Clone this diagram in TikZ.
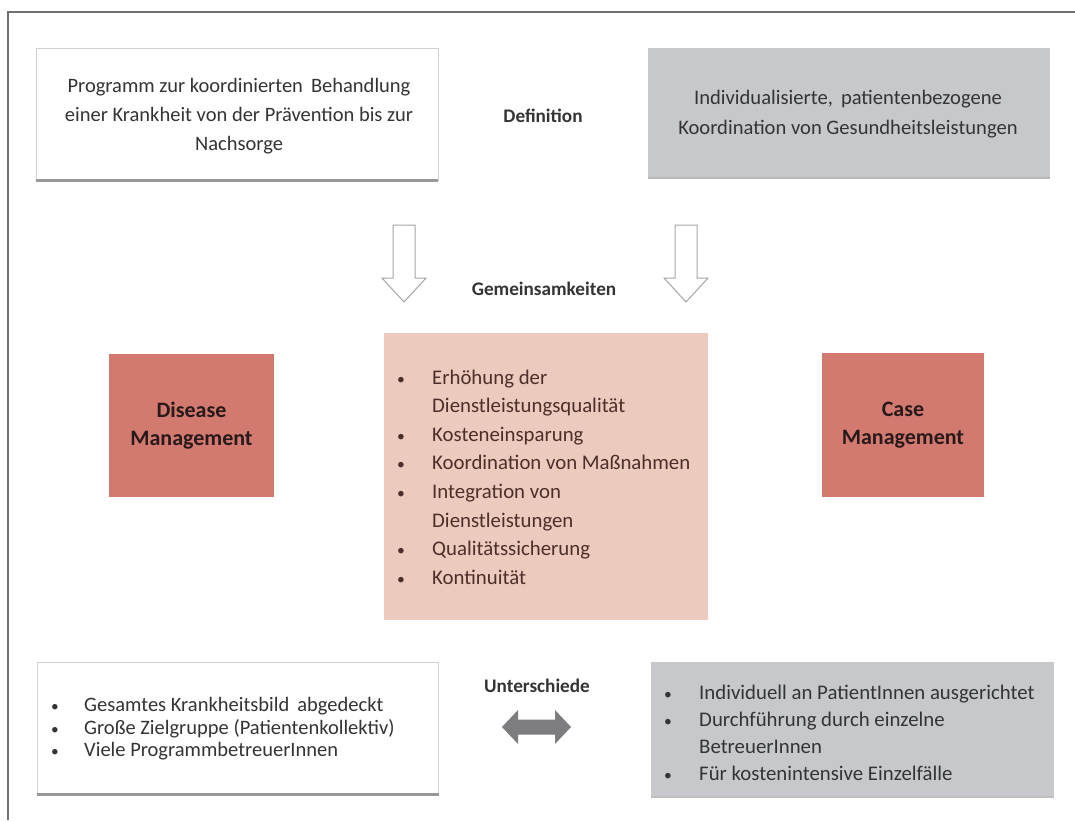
\documentclass[tikz,border=0pt]{standalone}
\usepackage{fontspec}
\setmainfont{Carlito}
\definecolor{framegray}{RGB}{112,112,112}
\definecolor{boxgray}{RGB}{198,200,204}
\definecolor{salmon}{RGB}{210,121,112}
\definecolor{pinklight}{RGB}{236,202,190}
\definecolor{textgray}{RGB}{52,52,52}
\definecolor{darktext}{RGB}{40,26,26}
\definecolor{browntext}{RGB}{76,46,42}
\definecolor{arrowgray}{RGB}{125,125,128}
\definecolor{hollowedge}{RGB}{165,165,165}
\newcommand{\bitem}[2][32pt]{\makebox[#1][l]{\hspace*{1pt}\scalebox{0.75}{\textbullet}}#2}
\newcommand{\bcont}[2][32pt]{\hspace*{#1}#2}
\begin{document}
\begin{tikzpicture}[x=1pt,y=-1pt,
  whitebox/.style={draw=black!18, line width=0.8pt, fill=white, text=textgray, inner sep=0pt},
  graybox/.style={fill=boxgray, text=textgray, inner sep=0pt},
  mgmtbox/.style={fill=salmon, text=darktext, font=\fontsize{22}{28}\selectfont\bfseries, align=center, inner sep=0pt},
  centerbox/.style={fill=pinklight, text=browntext, inner sep=0pt},
  lbl/.style={text=textgray, font=\fontsize{19.2}{22}\selectfont\bfseries},
  hollow/.style={draw=hollowedge, line width=1pt, fill=white, line join=miter},
  shadowline/.style={draw=black!40, line width=2.5pt}
]
\useasboundingbox (0,0) rectangle (1075,820);
\fill[white] (0,0) rectangle (1075,820);
% frame
\draw[framegray, line width=1.5pt] (8,820) -- (8,12) -- (1075,12);

% top boxes
\node[whitebox, minimum width=402, minimum height=132] (dmdef) at (237,114) {};
\draw[shadowline] (dmdef.south west) -- (dmdef.south east);
\node[text=textgray, align=center, inner sep=0pt,
      font=\fontsize{20.5}{29}\selectfont] (dmdeftext) at (239,116)
  {Programm zur koordinierten\, Behandlung\\einer Krankheit von der Prävention bis zur\\Nachsorge};
\node[graybox, minimum width=402, minimum height=130] (cmdef) at (849,113) {};
\draw[black!28, line width=1.5pt] (cmdef.south west) -- (cmdef.south east);
\node[text=textgray, align=center, inner sep=0pt,
      font=\fontsize{20.6}{30}\selectfont] (cmdeftext) at (848,114)
  {Individualisierte,\, patientenbezogene\\Koordination von Gesundheitsleistungen};
\node[lbl] (deflbl) at (543,116) {Definition};

% hollow arrows
\draw[hollow] (393,225) -- (415,225) -- (415,278) -- (426,278) -- (404,302) -- (382,278) -- (393,278) -- cycle;
\draw[hollow] (675,225) -- (697,225) -- (697,278) -- (708,278) -- (686,302) -- (664,278) -- (675,278) -- cycle;
\node[lbl] (gemlbl) at (544,289) {Gemeinsamkeiten};

% management boxes
\node[mgmtbox, minimum width=165, minimum height=143] (dm) at (191.5,425.5) {Disease\\Management};
\node[mgmtbox, minimum width=162, minimum height=144] (cm) at (903,425) {Case\\Management};

% center box
\node[centerbox, minimum width=324, minimum height=287] (common) at (546,476.5) {};
\node[text=browntext, anchor=west, align=left, inner sep=0pt,
      font=\fontsize{20.8}{28.6}\selectfont] (commontext) at (396,477)
  {\bitem[36pt]{Erhöhung der}\\
   \bcont[36pt]{Dienstleistungsqualität}\\
   \bitem[36pt]{Kosteneinsparung}\\
   \bitem[36pt]{Koordination von Maßnahmen}\\
   \bitem[36pt]{Integration von}\\
   \bcont[36pt]{Dienstleistungen}\\
   \bitem[36pt]{Qualitätssicherung}\\
   \bitem[36pt]{Kontinuität}};

% bottom boxes
\node[whitebox, minimum width=401, minimum height=132] (dmdiff) at (238,728) {};
\draw[shadowline] (dmdiff.south west) -- (dmdiff.south east);
\node[text=textgray, anchor=west, align=left, inner sep=0pt,
      font=\fontsize{20.5}{22.5}\selectfont] (dmdifftext) at (50,729)
  {\bitem[34pt]{Gesamtes Krankheitsbild\, abgedeckt}\\
   \bitem[34pt]{Große Zielgruppe (Patientenkollektiv)}\\
   \bitem[34pt]{Viele ProgrammbetreuerInnen}};

\node[graybox, minimum width=403, minimum height=135] (cmdiff) at (852.5,729.5) {};
\draw[black!25, line width=1.5pt] (cmdiff.south west) -- (cmdiff.south east);
\node[text=textgray, anchor=west, align=left, inner sep=0pt,
      font=\fontsize{20.8}{27}\selectfont] (cmdifftext) at (663,733)
  {\bitem[36pt]{Individuell an PatientInnen ausgerichtet}\\
   \bitem[36pt]{Durchführung durch einzelne}\\
   \bcont[36pt]{BetreuerInnen}\\
   \bitem[36pt]{Für kostenintensive Einzelfälle}};

\node[lbl] (difflbl) at (537,686) {Unterschiede};
% double arrow
\fill[arrowgray] (502,727) -- (518,710) -- (518,719.5) -- (555,719.5) -- (555,710)
  -- (571,727) -- (555,744) -- (555,734.5) -- (518,734.5) -- (518,744) -- cycle;
\end{tikzpicture}
\end{document}
